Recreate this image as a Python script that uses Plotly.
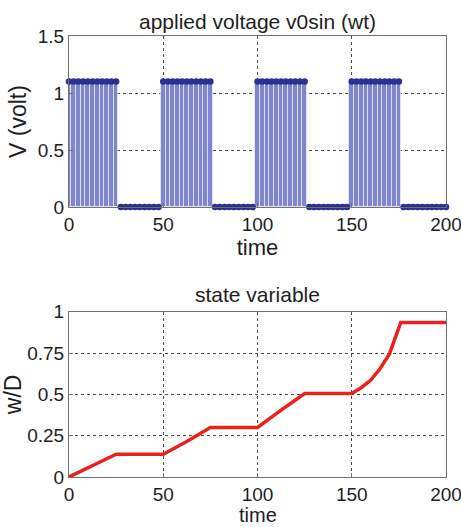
import plotly.graph_objects as go

# Applied voltage: rectangular pulses sampled for a stem plot
sample_step = 2.5
t_end = 200
pulse_starts = [0, 50, 100, 150]
pulse_width = 25
pulse_amplitude = 1.1

# State variable w/D read along the time axis
t_state = [0, 25, 50, 62.5, 75, 100, 112.5, 125, 150, 155, 160, 165, 170, 172.5, 175, 176, 200]
w_state = [0, 0.138, 0.138, 0.215, 0.30, 0.30, 0.405, 0.505, 0.505, 0.54, 0.585, 0.655,
           0.745, 0.82, 0.905, 0.935, 0.935]

x_ticks = [0, 50, 100, 150, 200]
v_ticks = [0, 0.5, 1, 1.5]
v_tick_text = ["0", "0.5", "1", "1.5"]
w_ticks = [0, 0.25, 0.5, 0.75, 1]
w_tick_text = ["0", "0.25", "0.5", "0.75", "1"]

t_samples = [i * sample_step for i in range(int(t_end / sample_step) + 1)]
v_samples = [pulse_amplitude if any(s <= t <= s + pulse_width for s in pulse_starts) else 0
             for t in t_samples]

FONT = "Liberation Sans, Arial, sans-serif"
TEXT_COLOR = "#1e1e1e"
AXIS_COLOR = "#707070"
GRID_COLOR = "#4a4a4a"

fig = go.Figure()

# stems
fig.add_trace(go.Bar(
    x=t_samples, y=v_samples, width=sample_step,
    marker=dict(color="#7f86cd", line=dict(color="rgba(255,255,255,0.55)", width=1)),
    xaxis="x", yaxis="y", showlegend=False,
))
# stem heads
fig.add_trace(go.Scatter(
    x=t_samples, y=v_samples, mode="markers",
    marker=dict(color="#2a3090", size=6.5, line=dict(width=0)),
    xaxis="x", yaxis="y", showlegend=False, cliponaxis=False,
))
fig.add_trace(go.Scatter(
    x=t_state, y=w_state, mode="lines",
    line=dict(color="#e8231e", width=3.5),
    xaxis="x2", yaxis="y2", showlegend=False,
))

axis_common = dict(
    showline=True, mirror=True, linecolor=AXIS_COLOR, linewidth=1,
    showgrid=True, gridcolor=GRID_COLOR, griddash="dot", gridwidth=1,
    zeroline=False, ticks="inside", ticklen=4, tickcolor=AXIS_COLOR,
    ticklabeloverflow="allow", automargin=False,
    tickfont=dict(family=FONT, size=19, color=TEXT_COLOR),
)

fig.update_layout(
    width=461, height=527,
    margin=dict(l=69, r=15, t=36, b=50, autoexpand=False),
    paper_bgcolor="white", plot_bgcolor="white",
    bargap=0,
    xaxis=dict(domain=[0, 1], range=[0, 200], tickvals=x_ticks, anchor="y",
               title=dict(text="time", font=dict(family=FONT, size=22, color=TEXT_COLOR), standoff=0),
               **axis_common),
    yaxis=dict(domain=[0.6122, 1], range=[0, 1.5], tickvals=v_ticks, ticktext=v_tick_text,
               anchor="x",
               title=dict(text="V (volt)", font=dict(family=FONT, size=23, color=TEXT_COLOR), standoff=4),
               **axis_common),
    xaxis2=dict(domain=[0, 1], range=[0, 200], tickvals=x_ticks, anchor="y2",
                **axis_common),
    yaxis2=dict(domain=[0, 0.3748], range=[0, 1], tickvals=w_ticks, ticktext=w_tick_text,
                anchor="x2",
                title=dict(text="w/D", font=dict(family=FONT, size=23, color=TEXT_COLOR), standoff=4),
                **axis_common),
    annotations=[
        dict(text="applied voltage v0sin (wt)", x=0.5, y=1, xref="paper", yref="paper",
             yshift=1, yanchor="bottom", showarrow=False,
             font=dict(family=FONT, size=21, color=TEXT_COLOR)),
        dict(text="state variable", x=0.5, y=0.3748, xref="paper", yref="paper",
             yshift=4, yanchor="bottom", showarrow=False,
             font=dict(family=FONT, size=21, color=TEXT_COLOR)),
        # x-axis title of the lower panel, sitting at the bottom edge of the figure
        dict(text="time", x=0.5, y=0, xref="paper", yref="paper",
             yshift=-38, yanchor="middle", showarrow=False,
             font=dict(family=FONT, size=20, color=TEXT_COLOR)),
    ],
)

fig.write_html("out.html")
